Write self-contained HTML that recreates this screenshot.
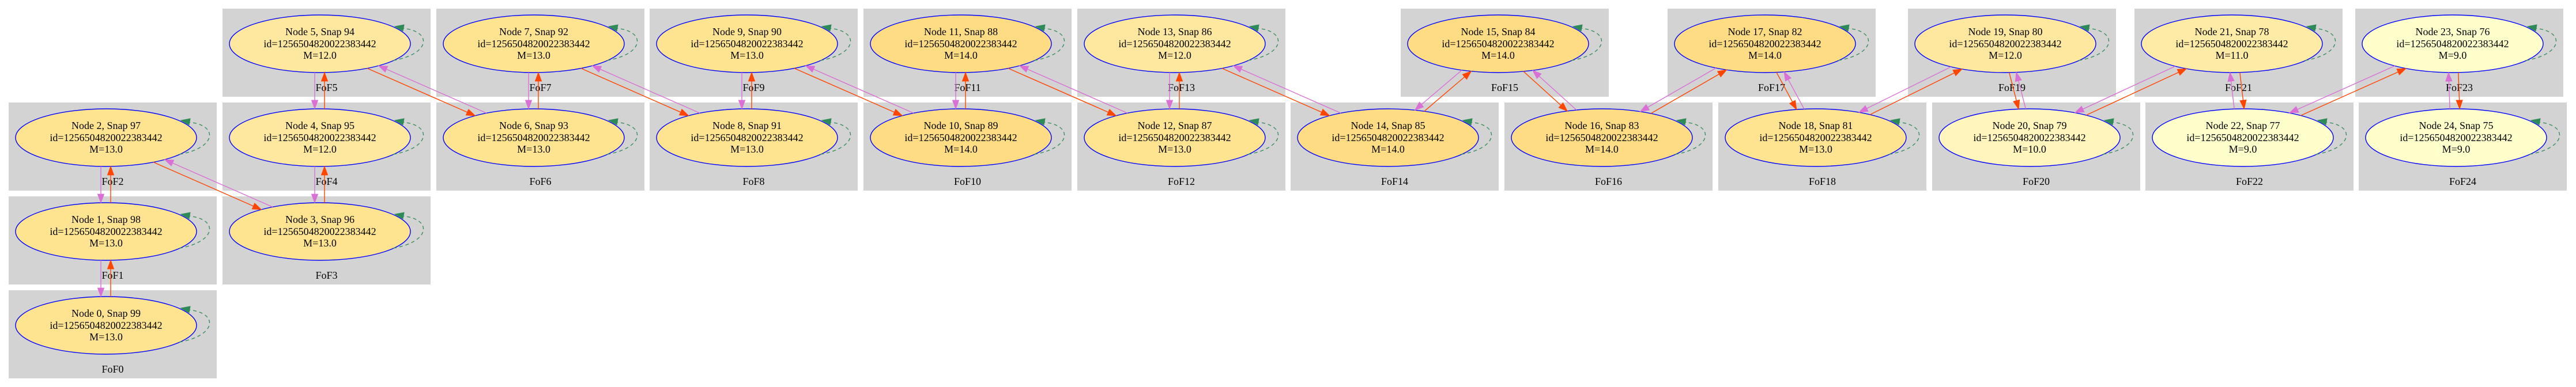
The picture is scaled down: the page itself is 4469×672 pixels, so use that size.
<!DOCTYPE html>
<html><head><meta charset="utf-8">
<style>
html,body{margin:0;padding:0;background:#fff;}
svg{display:block;}
text{font-family:"Liberation Serif",serif;font-size:18px;fill:#000;}
</style></head>
<body>
<svg id="s" xmlns="http://www.w3.org/2000/svg" width="4469" height="672" viewBox="0 0 4469 672">
<rect width="4469" height="672" fill="#fff"/>
</svg>
<script>
(function(){
var NS="http://www.w3.org/2000/svg",svg=document.getElementById("s");
function el(t,a,txt){var e=document.createElementNS(NS,t);for(var k in a)e.setAttribute(k,a[k]);if(txt!=null)e.textContent=txt;svg.appendChild(e);return e;}
var cl=[[15,504],[15,341],[15,178],[386,341],[386,178],[386,15],[757,178],[757,15],[1127,178],[1127,15],[1498,178],[1498,15],[1869,178],[1869,15],[2239,178],[2430,15],[2610,178],[2893,15],[2981,178],[3310,15],[3352,178],[3703,15],[3722,178],[4086,15],[4092,178]];
var M=[13,13,13,13,12,12,13,13,13,13,14,14,13,12,14,14,14,14,13,12,10,11,9,9,9];
var col={14:"#fddc84",13:"#fee391",12:"#fee89f",11:"#feeba6",10:"#fff5bd",9:"#ffffcc"};
var W=361,H=153,RX=157,RY=50;
var C=[];
cl.forEach(function(p,i){
  el("rect",{x:p[0],y:p[1],width:W,height:H,fill:"#d3d3d3"});
  el("text",{x:p[0]+W/2,y:p[1]+143,"text-anchor":"middle"},"FoF"+i);
  C.push([p[0]+169,p[1]+61]);
});
// nodes + loops
C.forEach(function(c,i){
  var x=c[0],y=c[1];
  el("ellipse",{cx:x,cy:y,rx:RX,ry:RY,fill:col[M[i]],stroke:"#0000ff","stroke-width":1.4});
  el("path",{d:"M"+(x+127)+","+(y+29)+" C"+(x+192)+","+(y+18)+" "+(x+196)+","+(y-22)+" "+(x+143)+","+(y-27),fill:"none",stroke:"#2e8b57","stroke-width":1.3,"stroke-dasharray":"6,5"});
  el("polygon",{points:(x+130)+","+(y-30)+" "+(x+146)+","+(y-33)+" "+(x+144)+","+(y-22),fill:"#2e8b57",stroke:"#2e8b57"});
  el("text",{x:x,y:y-15,"text-anchor":"middle"},"Node "+i+", Snap "+(99-i));
  el("text",{x:x,y:y+6,"text-anchor":"middle"},"id=1256504820022383442");
  el("text",{x:x,y:y+26,"text-anchor":"middle"},"M="+M[i]+".0");
});
function roots(c,p,d){
  var ax=(p[0]-c[0])/RX,ay=(p[1]-c[1])/RY,bx=d[0]/RX,by=d[1]/RY;
  var a=bx*bx+by*by,b=2*(ax*bx+ay*by),cc=ax*ax+ay*ay-1;
  var D=Math.sqrt(Math.max(0,b*b-4*a*cc));
  return [(-b-D)/(2*a),(-b+D)/(2*a)];
}
function edge(s,t,off,color){
  var A=C[s],B=C[t];
  var dx=B[0]-A[0],dy=B[1]-A[1],L=Math.hypot(dx,dy);
  var d=[dx/L,dy/L],pp=[-d[1],d[0]];
  var p0=[A[0]+pp[0]*off,A[1]+pp[1]*off];
  var t1=roots(A,p0,d)[1],t2=roots(B,p0,d)[0];
  var S=[p0[0]+d[0]*t1,p0[1]+d[1]*t1],E=[p0[0]+d[0]*t2,p0[1]+d[1]*t2];
  var hl=15,hw=5.5;
  var Bx=E[0]-d[0]*hl,By=E[1]-d[1]*hl;
  el("line",{x1:S[0],y1:S[1],x2:Bx,y2:By,stroke:color,"stroke-width":1.4});
  el("polygon",{points:E[0]+","+E[1]+" "+(Bx+pp[0]*hw)+","+(By+pp[1]*hw)+" "+(Bx-pp[0]*hw)+","+(By-pp[1]*hw),fill:color,stroke:color});
}
for(var i=0;i<24;i++){
  // orange n -> n+1, violet n+1 -> n
  var A=C[i],B=C[i+1];
  var dx=B[0]-A[0],dy=B[1]-A[1];
  var off=8;
  if(Math.abs(dx)<40){ // vertical pair
    edge(i,i+1,dy<0?8:-8,"#ff4500");
    edge(i+1,i,dy<0?9:-9,"#da70d6");
  }else{
    edge(i,i+1,6,"#ff4500");
    edge(i+1,i,6,"#da70d6");
  }
}
})();
</script>
</body></html>
